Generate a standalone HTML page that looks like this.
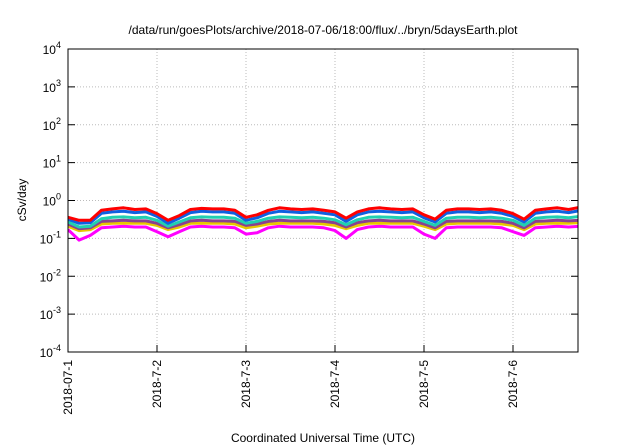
<!DOCTYPE html>
<html><head><meta charset="utf-8"><style>
body{margin:0;background:#fff;}
svg{display:block;font-family:"Liberation Sans",sans-serif;}
</style></head><body>
<svg id="chart" width="640" height="448" viewBox="0 0 640 448" xmlns="http://www.w3.org/2000/svg">
<text x="323" y="34" font-size="12" text-anchor="middle">/data/run/goesPlots/archive/2018-07-06/18:00/flux/../bryn/5daysEarth.plot</text>
<g id="grid"></g>
<g id="series"></g>
<rect x="68" y="49" width="510" height="303" fill="none" stroke="#000" stroke-width="1"/>
<g id="axes"></g>
<text transform="translate(26,200) rotate(-90)" font-size="12" text-anchor="middle">cSv/day</text>
<text x="323" y="442" font-size="12" text-anchor="middle">Coordinated Universal Time (UTC)</text>
</svg>
<script>
const xTickLabels=["2018-07-1","2018-7-2","2018-7-3","2018-7-4","2018-7-5","2018-7-6"];
const yExps=[-4,-3,-2,-1,0,1,2,3,4];
const red=[0.36,0.3,0.3,0.55,0.6,0.64,0.58,0.6, 0.45,0.3,0.4,0.58,0.62,0.6,0.6,0.55, 0.36,0.42,0.55,0.64,0.6,0.58,0.6,0.55, 0.5,0.34,0.5,0.6,0.64,0.6,0.58,0.6, 0.42,0.32,0.55,0.6,0.6,0.58,0.6,0.55, 0.45,0.32,0.55,0.6,0.64,0.58,0.66];
const blue=[0.32,0.25,0.26,0.46,0.5,0.52,0.48,0.5, 0.38,0.25,0.34,0.48,0.52,0.5,0.5,0.46, 0.3,0.35,0.46,0.52,0.5,0.48,0.5,0.46, 0.42,0.28,0.42,0.5,0.52,0.5,0.48,0.5, 0.35,0.27,0.46,0.5,0.5,0.48,0.5,0.46, 0.38,0.27,0.46,0.5,0.52,0.48,0.54];
const cyan=[0.27,0.2,0.21,0.33,0.36,0.37,0.35,0.36, 0.3,0.21,0.27,0.35,0.37,0.36,0.36,0.34, 0.25,0.28,0.34,0.37,0.36,0.35,0.36,0.34, 0.31,0.23,0.31,0.36,0.37,0.36,0.35,0.36, 0.28,0.22,0.34,0.36,0.36,0.35,0.36,0.34, 0.3,0.22,0.34,0.36,0.37,0.35,0.38];
const purple=[0.24,0.18,0.19,0.28,0.29,0.3,0.29,0.29, 0.25,0.19,0.23,0.29,0.3,0.29,0.29,0.28, 0.22,0.24,0.28,0.3,0.29,0.29,0.29,0.28, 0.26,0.2,0.26,0.29,0.3,0.29,0.29,0.29, 0.24,0.19,0.28,0.29,0.29,0.29,0.29,0.28, 0.25,0.19,0.28,0.29,0.3,0.29,0.3];
const yellow=[0.21,0.16,0.17,0.24,0.25,0.25,0.25,0.25, 0.22,0.17,0.2,0.25,0.25,0.25,0.25,0.24, 0.19,0.21,0.24,0.25,0.25,0.25,0.25,0.24, 0.22,0.18,0.22,0.25,0.25,0.25,0.25,0.25, 0.21,0.17,0.24,0.25,0.25,0.25,0.25,0.24, 0.22,0.17,0.24,0.25,0.25,0.25,0.26];
const magenta=[0.17,0.09,0.12,0.19,0.2,0.21,0.2,0.2, 0.15,0.11,0.15,0.2,0.21,0.2,0.2,0.19, 0.13,0.14,0.19,0.21,0.2,0.2,0.2,0.19, 0.16,0.1,0.17,0.2,0.21,0.2,0.2,0.2, 0.13,0.1,0.19,0.2,0.2,0.2,0.2,0.19, 0.15,0.12,0.19,0.2,0.21,0.2,0.21];
const seriesList=[["magenta",magenta,"#ff00ff"],["yellow",yellow,"#e8c800"],["purple",purple,"#8a4090"],["cyan",cyan,"#20d0b0"],["blue",blue,"#1060e0"],["red",red,"#ff0000"]];
const L=68,R=578,T=49,B=352,DAY=89,STEP=0.125;
const NS="http://www.w3.org/2000/svg";
const xs=d=>L+d*DAY;
const ys=v=>B-(Math.log10(v)+4)*(B-T)/8;
function mk(tag,attrs,parent){const e=document.createElementNS(NS,tag);for(const k in attrs)e.setAttribute(k,attrs[k]);parent.appendChild(e);return e;}
const grid=document.getElementById('grid'),axes=document.getElementById('axes'),sg=document.getElementById('series');
yExps.forEach(p=>{const y=ys(Math.pow(10,p));
 if(p>-4&&p<4){const g=mk('line',{x1:L,x2:R,y1:y,y2:y,stroke:'#bbb','stroke-dasharray':'1,2'},grid);
 
 }
 const t1=mk('line',{x1:L,x2:L+7,y1:y,y2:y,stroke:'#000'},axes);
 
 
 const t2=mk('line',{x1:R-7,x2:R,y1:y,y2:y,stroke:'#000'},axes);
 
 
 const tx=mk('text',{x:L-7,y:y+5,'font-size':'12','text-anchor':'end'},axes);
 
 
 tx.innerHTML='10<tspan dy="-6" font-size="9">'+p+'</tspan>';
});
xTickLabels.forEach((lab,i)=>{const x=xs(i);
 if(i>0){const g=mk('line',{x1:x,x2:x,y1:T,y2:B,stroke:'#bbb','stroke-dasharray':'1,2'},grid);
 
 }
 const t1=mk('line',{x1:x,x2:x,y1:B-7,y2:B,stroke:'#000'},axes);
 
 
 const tx=mk('text',{transform:'translate('+(x+4)+','+(B+8)+') rotate(-90)','font-size':'12','text-anchor':'end'},axes);
 
 
 tx.textContent=lab;
});
mk('clipPath',{id:'pc'},sg).appendChild(document.createElementNS(NS,'rect'));
const cr=sg.querySelector('clipPath rect');cr.setAttribute('x',L);cr.setAttribute('y',T);cr.setAttribute('width',R-L);cr.setAttribute('height',B-T);
seriesList.forEach(([nm,arr,col])=>{
 const pts=arr.map((v,i)=>xs(i*STEP).toFixed(1)+','+ys(v).toFixed(1)).join(' ');
 const pl=mk('polyline',{points:pts,fill:'none',stroke:col,'stroke-width':'3','stroke-linejoin':'round','clip-path':'url(#pc)'},sg);
 
 
});
</script>
</body></html>
